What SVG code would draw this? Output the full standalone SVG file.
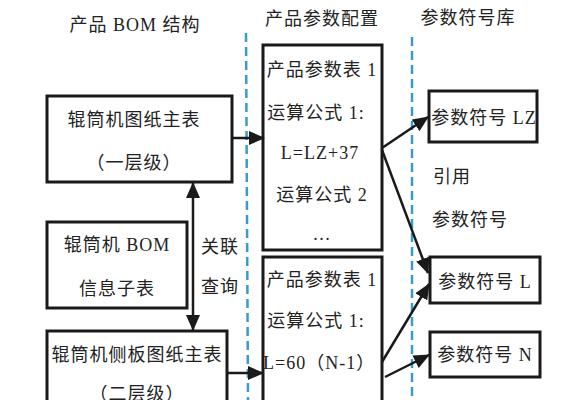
<svg xmlns="http://www.w3.org/2000/svg" width="579" height="400" viewBox="0 0 579 400">
<style>
text{font-family:"Liberation Serif","Noto Sans CJK SC",serif;font-size:18px;fill:#222;letter-spacing:1px;}
.c{text-anchor:middle;}
.box{fill:#fff;stroke:#1a1a1a;stroke-width:3;}
.ln{stroke:#1a1a1a;stroke-width:2.5;fill:none;}
.dash{stroke:#3a9cc4;stroke-width:2.5;stroke-dasharray:9 5;fill:none;}
</style>
<defs>
<marker id="ah" markerUnits="userSpaceOnUse" markerWidth="16" markerHeight="14" refX="15" refY="7" orient="auto-start-reverse">
<path d="M0,0 L16,7 L0,14 z" fill="#1a1a1a"/>
</marker>
</defs>
<rect width="579" height="400" fill="#fff"/>
<g id="titles">
<text class="c" x="135" y="31">产品 BOM 结构</text>
<text class="c" x="322" y="25">产品参数配置</text>
<text class="c" x="468" y="24">参数符号库</text>
</g>
<g id="dividers">
<line class="dash" x1="246" y1="33" x2="248" y2="400"/>
<line class="dash" x1="412" y1="37" x2="412" y2="400"/>
</g>
<g id="n1">
<rect class="box" x="47" y="96" width="185" height="86"/>
<text class="c" x="134" y="126">辊筒机图纸主表</text>
<text class="c" x="134" y="169">（一层级）</text>
</g>
<g id="n2">
<rect class="box" x="47" y="222" width="140" height="86"/>
<text class="c" x="117" y="251">辊筒机 BOM</text>
<text class="c" x="117" y="295">信息子表</text>
</g>
<g id="n3">
<rect class="box" x="47" y="331" width="180" height="80"/>
<text class="c" x="137" y="361">辊筒机侧板图纸主表</text>
<text class="c" x="137" y="400">（二层级）</text>
</g>
<g id="n4">
<rect class="box" x="263" y="45" width="119" height="205"/>
<text class="c" x="322" y="76">产品参数表 1</text>
<text class="c" x="316" y="119">运算公式 1:</text>
<text class="c" x="320" y="159">L=LZ+37</text>
<text class="c" x="322" y="201">运算公式 2</text>
<text class="c" x="322" y="240">…</text>
</g>
<g id="n5">
<rect class="box" x="263" y="257" width="119" height="160"/>
<text class="c" x="322" y="286">产品参数表 1</text>
<text class="c" x="316" y="327">运算公式 1:</text>
<text x="263" y="369">L=60（N-1）</text>
</g>
<g id="n6">
<rect class="box" x="429" y="91" width="108" height="51"/>
<text class="c" x="484" y="124">参数符号 LZ</text>
</g>
<g id="n7">
<rect class="box" x="430" y="257" width="110" height="46"/>
<text class="c" x="485" y="288">参数符号 L</text>
</g>
<g id="n8">
<rect class="box" x="430" y="332" width="110" height="45"/>
<text class="c" x="485" y="361">参数符号 N</text>
</g>
<g id="labels">
<text class="c" x="220" y="253">关联</text>
<text class="c" x="220" y="293">查询</text>
<text x="433" y="183">引用</text>
<text x="432" y="226">参数符号</text>
</g>
<g id="connectors">
<line class="ln" x1="232" y1="138" x2="264" y2="138" marker-end="url(#ah)"/>
<line class="ln" x1="227" y1="373" x2="263" y2="373" marker-end="url(#ah)"/>
<line class="ln" x1="193" y1="183" x2="193" y2="330" marker-start="url(#ah)" marker-end="url(#ah)"/>
<line class="ln" x1="382" y1="148" x2="428" y2="117" marker-end="url(#ah)"/>
<line class="ln" x1="382" y1="150" x2="428" y2="273" marker-end="url(#ah)"/>
<line class="ln" x1="382" y1="362" x2="429" y2="284" marker-end="url(#ah)"/>
<line class="ln" x1="385" y1="377" x2="429" y2="355" marker-end="url(#ah)"/>
</g>
</svg>
